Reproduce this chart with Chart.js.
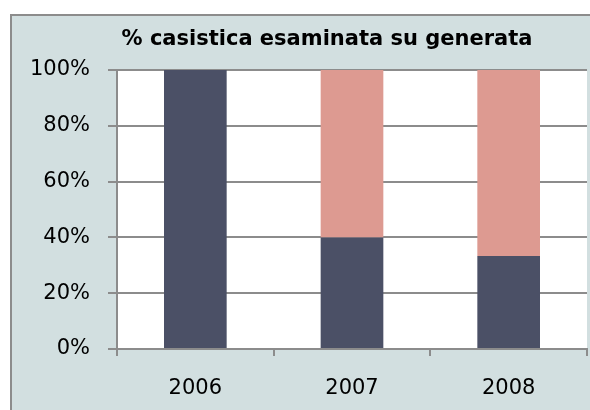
<!DOCTYPE html>
<html>
<head>
<meta charset="utf-8">
<script src="https://cdn.jsdelivr.net/npm/chart.js@4"></script>
<style>
    body { margin: 0; background: #ffffff; }
    #wrap { width: 590px; height: 410px; }
</style>
</head>
<body>
<div id="wrap"><canvas id="casiChart" width="590" height="410"></canvas></div>
<script>
// Data
const years = ['2006', '2007', '2008'];
const esaminata = [100, 40, 33.3];
const nonEsaminata = [0, 60, 66.7];
const yTicks = [0, 20, 40, 60, 80, 100];
const chartTitle = '% casistica esaminata su generata';

const gridGray = '#8c8c8c';

// Panel background, border and white plot area
const panelBackground = {
    id: 'panelBackground',
    beforeDraw(chart) {
        const ctx = chart.ctx;
        const area = chart.chartArea;
        ctx.save();
        ctx.fillStyle = '#ffffff';
        ctx.fillRect(0, 0, chart.width, chart.height);
        ctx.fillStyle = '#d2dfe0';
        ctx.fillRect(10, 14, chart.width, chart.height);
        ctx.strokeStyle = gridGray;
        ctx.lineWidth = 2;
        ctx.strokeRect(11, 15, chart.width + 20, chart.height + 20);
        ctx.fillStyle = '#ffffff';
        ctx.fillRect(area.left, area.top, area.right - area.left, area.bottom - area.top);
        ctx.restore();
    },
    // title sits a bit right of the canvas centre, like the original
    afterDraw(chart) {
        const ctx = chart.ctx;
        ctx.save();
        ctx.fillStyle = '#000000';
        ctx.font = 'bold 21px "DejaVu Sans"';
        ctx.textAlign = 'center';
        ctx.textBaseline = 'middle';
        ctx.fillText(chartTitle, 327, 40);
        ctx.restore();
    }
};

document.addEventListener('DOMContentLoaded', function() {
    const ctx = document.getElementById('casiChart').getContext('2d');
    new Chart(ctx, {
        type: 'bar',
        data: {
            labels: years,
            datasets: [
                {
                    label: 'esaminata',
                    data: esaminata,
                    backgroundColor: '#4b5066',
                    borderWidth: 0
                },
                {
                    label: 'generata',
                    data: nonEsaminata,
                    backgroundColor: '#dd9a91',
                    borderWidth: 0
                }
            ]
        },
        options: {
            responsive: false,
            animation: false,
            layout: {
                padding: { left: 0, top: 70, right: 3, bottom: 0 }
            },
            datasets: {
                bar: {
                    categoryPercentage: 1,
                    barPercentage: 0.4
                }
            },
            plugins: {
                legend: { display: false },
                tooltip: { enabled: false },
                title: { display: false }
            },
            scales: {
                x: {
                    stacked: true,
                    grid: {
                        offset: true,
                        drawOnChartArea: false,
                        drawTicks: true,
                        tickLength: 7,
                        color: gridGray,
                        lineWidth: 2
                    },
                    border: { color: gridGray, width: 2 },
                    ticks: {
                        color: '#000000',
                        padding: 20,
                        font: { family: 'DejaVu Sans', size: 21 }
                    },
                    afterFit(scale) {
                        scale.height = 61;
                    }
                },
                y: {
                    stacked: true,
                    min: 0,
                    max: 100,
                    afterBuildTicks(scale) {
                        scale.ticks = yTicks.map(v => ({ value: v }));
                    },
                    grid: {
                        color: gridGray,
                        lineWidth: 2,
                        tickLength: 9
                    },
                    border: { color: gridGray, width: 2 },
                    ticks: {
                        color: '#000000',
                        padding: 18,
                        font: { family: 'DejaVu Sans', size: 21 },
                        callback: value => value + '%'
                    },
                    afterFit(scale) {
                        scale.width = 117;
                    }
                }
            }
        },
        plugins: [panelBackground]
    });
});
</script>
</body>
</html>
